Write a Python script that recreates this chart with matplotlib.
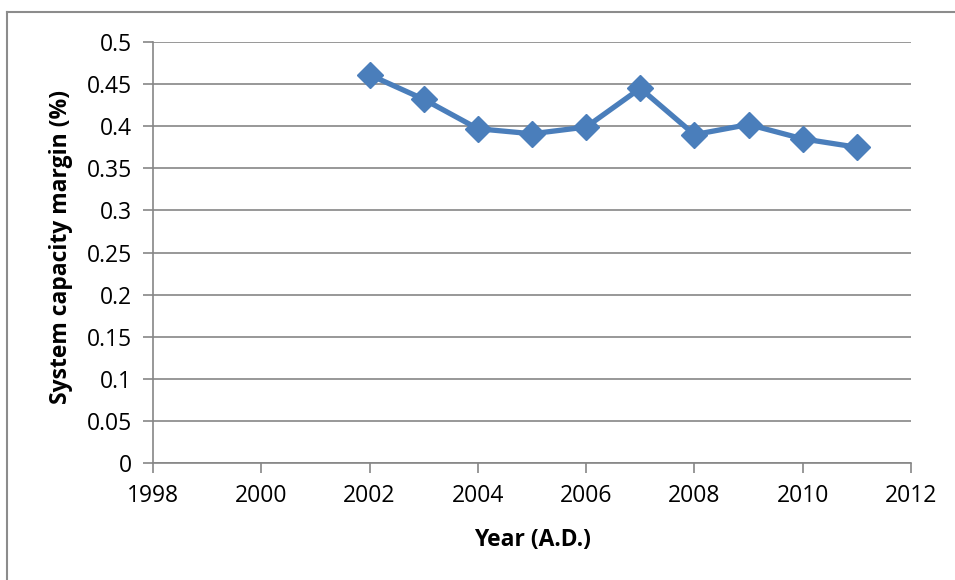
import matplotlib
matplotlib.use("Agg")
import matplotlib.pyplot as plt
from matplotlib.lines import Line2D

years = [2002, 2003, 2004, 2005, 2006, 2007, 2008, 2009, 2010, 2011]
margin = [0.461, 0.432, 0.397, 0.391, 0.399, 0.445, 0.390, 0.402, 0.385, 0.375]
x_ticks = [1998, 2000, 2002, 2004, 2006, 2008, 2010, 2012]
y_ticks = [0, 0.05, 0.1, 0.15, 0.2, 0.25, 0.3, 0.35, 0.4, 0.45, 0.5]
y_tick_labels = ["0", "0.05", "0.1", "0.15", "0.2", "0.25", "0.3", "0.35", "0.4", "0.45", "0.5"]

plt.rcParams['font.family'] = ['Open Sans', 'DejaVu Sans']

fig = plt.figure(figsize=(9.55, 5.8), dpi=100)
ax = fig.add_axes([153/955, 1-463/580, (911-153)/955, (463-42)/580])

grid_c = '#868686'
ax.set_xlim(1998, 2012)
ax.set_ylim(0, 0.5)
ax.set_yticks(y_ticks)
ax.set_yticklabels(y_tick_labels)
ax.set_xticks(x_ticks)
ax.set_xticklabels([str(t) for t in x_ticks])
ax.yaxis.grid(True, color=grid_c, linewidth=1.2)
ax.set_axisbelow(True)
for s in ['top', 'right']:
    ax.spines[s].set_visible(False)
for s in ['left', 'bottom']:
    ax.spines[s].set_color(grid_c)
    ax.spines[s].set_linewidth(1.2)
ax.tick_params(axis='y', direction='out', length=7, width=1.2, color=grid_c, labelsize=16.5, pad=8)
ax.tick_params(axis='x', direction='out', length=7, width=1.2, color=grid_c, labelsize=16.5, pad=8)

ax.plot(years, margin, color='#4a7ebb', linewidth=3.8, marker='D', markersize=13,
        markerfacecolor='#4a7ebb', markeredgecolor='#4a7ebb', clip_on=False, zorder=3)

ax.set_xlabel('Year (A.D.)', fontsize=16.5, fontweight='bold')
ax.set_ylabel('System capacity margin (%)', fontsize=16.5, fontweight='bold')
ax.xaxis.set_label_coords((532-153)/758, (463-540)/421)
ax.yaxis.set_label_coords((61-153)/758, (463-247)/421)
ax.xaxis.label.set_va('center')
ax.yaxis.label.set_va('center')

# outer frame
fig.add_artist(Line2D([7/955, 7/955], [0, 1-12/580], transform=fig.transFigure, color='#8c8c8c', linewidth=1.5))
fig.add_artist(Line2D([7/955, 1], [1-12/580, 1-12/580], transform=fig.transFigure, color='#8c8c8c', linewidth=1.5))

fig.savefig('out.png', dpi=100)
